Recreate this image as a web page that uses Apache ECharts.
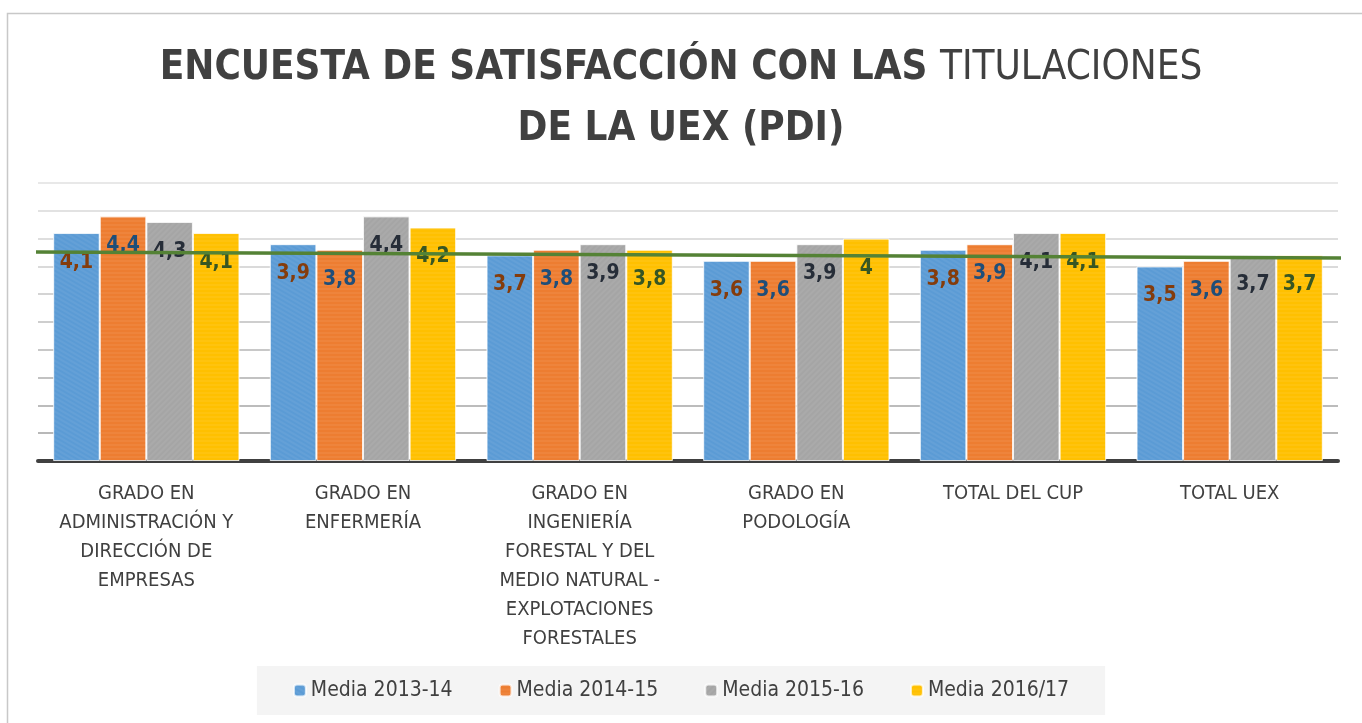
<!DOCTYPE html>
<html>
<head>
<meta charset="utf-8">
<script src="https://cdn.jsdelivr.net/npm/echarts@6/dist/echarts.min.js"></script>
<style>
  html, body { margin: 0; padding: 0; background: #fff; }
  #chart { width: 1362px; height: 723px; }
</style>
</head>
<body>
<div id="chart"></div>
<script>
const categories = [
  'GRADO EN\nADMINISTRACIÓN Y\nDIRECCIÓN DE\nEMPRESAS',
  'GRADO EN\nENFERMERÍA',
  'GRADO EN\nINGENIERÍA\nFORESTAL Y DEL\nMEDIO NATURAL -\nEXPLOTACIONES\nFORESTALES',
  'GRADO EN\nPODOLOGÍA',
  'TOTAL DEL CUP',
  'TOTAL UEX'
]
const seriesNames = ['Media 2013-14', 'Media 2014-15', 'Media 2015-16', 'Media 2016/17']
const media1314 = [4.1, 3.9, 3.7, 3.6, 3.8, 3.5]
const media1415 = [4.4, 3.8, 3.8, 3.6, 3.9, 3.6]
const media1516 = [4.3, 4.4, 3.9, 3.9, 4.1, 3.7]
const media1617 = [4.1, 4.2, 3.8, 4, 4.1, 3.7]
// green line: value at left end and right end
const trendLine = [3.76, 3.65]

const font = "'Liberation Sans Narrow', 'DejaVu Sans Condensed', sans-serif"
const barColors = ['#5B9BD5', '#ED7D31', '#A5A5A5', '#FFC000']
const labelColors = ['#843C0C', '#1F4E79', '#262D38', '#375623']
const allValues = [media1314, media1415, media1516, media1617]

const chart = echarts.init(document.getElementById('chart'))

const barSeries = allValues.map((vals, i) => ({
  type: 'bar',
  name: seriesNames[i],
  data: vals,
  barGap: '0%',
  barCategoryGap: '14%',
  itemStyle: {
    color: barColors[i],
    borderColor: 'rgba(255,255,255,0.5)',
    borderWidth: 1,
    decal: {
      symbol: 'rect',
      symbolSize: 0.5,
      color: 'rgba(255,255,255,0.22)',
      dashArrayX: [1, 0],
      dashArrayY: [2, 2]
    }
  },
  label: {
    show: true,
    position: 'insideTop',
    distance: 19,
    fontFamily: font,
    fontWeight: 'bold',
    fontSize: 21,
    color: labelColors[i],
    formatter: p => String(p.value).replace('.', ',')
  }
}))

const option = {
  animation: false,
  aria: { enabled: true, decal: { show: true } },
  textStyle: { fontFamily: font },
  title: {
    left: 'center',
    top: 33,
    text: '{b|ENCUESTA DE SATISFACCIÓN CON LAS }{n|TITULACIONES}\n{b|DE LA UEX (PDI)}',
    textStyle: {
      rich: {
        b: { fontFamily: font, fontWeight: 'bold', fontSize: 40, color: '#404040', lineHeight: 61 },
        n: { fontFamily: font, fontWeight: 'normal', fontSize: 40, color: '#404040', lineHeight: 61 }
      }
    }
  },
  legend: {
    data: seriesNames,
    bottom: 8,
    left: 'center',
    itemWidth: 12,
    itemHeight: 12,
    itemGap: 46,
    padding: [14, 36, 14, 36],
    backgroundColor: '#f4f4f4',
    textStyle: { fontFamily: font, fontSize: 21, color: '#404040' }
  },
  grid: { left: 38, right: 24, top: 183, bottom: 262 },
  xAxis: [{
    type: 'category',
    data: categories,
    axisTick: { show: false },
    axisLine: { lineStyle: { color: '#404040', width: 4 } },
    axisLabel: {
      interval: 0,
      margin: 18,
      fontFamily: font,
      fontSize: 20,
      lineHeight: 29,
      color: '#404040',
      verticalAlign: 'top'
    }
  }, {
    type: 'value',
    min: 0,
    max: 1,
    show: false
  }],
  yAxis: {
    type: 'value',
    min: 0,
    max: 5,
    interval: 0.5,
    axisLabel: { show: false },
    axisLine: { show: false },
    axisTick: { show: false },
    splitLine: {
      lineStyle: {
        width: 2,
        color: ['#ffffff', '#b8b8b8', '#bcbcbc', '#c2c2c2', '#c8c8c8', '#cecece', '#d4d4d4', '#dadada', '#dedede', '#e2e2e2', '#e8e8e8']
      }
    }
  },
  series: [
    ...barSeries,
    {
      type: 'line',
      name: 'tendencia',
      xAxisIndex: 1,
      clip: false,
      silent: true,
      symbol: 'none',
      z: 5,
      lineStyle: { color: '#548235', width: 3.5 },
      data: [[-0.0023, trendLine[0]], [1.0170, trendLine[1]]]
    }
  ],
  graphic: [{
    type: 'rect',
    shape: { x: 7.5, y: 13.5, width: 1400, height: 800 },
    style: { fill: 'none', stroke: '#c8c8c8', lineWidth: 1.5 },
    silent: true,
    z: -1
  }]
}

chart.setOption(option)
</script>
</body>
</html>
